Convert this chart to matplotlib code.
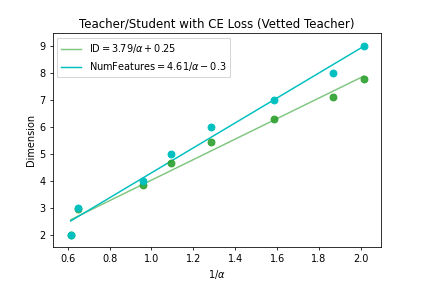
import matplotlib
matplotlib.use('Agg')
import matplotlib.pyplot as plt
import numpy as np

# 1/alpha values (x)
inv_alpha = np.array([0.614, 0.651, 0.961, 1.093, 1.285, 1.586, 1.868, 2.014])
# measured intrinsic dimension (green) and number of features (cyan)
id_vals = np.array([2.0, 2.96, 3.86, 4.67, 5.46, 6.30, 7.12, 7.77])
num_features = np.array([2, 3, 4, 5, 6, 7, 8, 9])

# fit coefficients as printed in the legend
id_slope, id_icpt = 3.79, 0.25
nf_slope, nf_icpt = 4.61, -0.3

fig = plt.figure(figsize=(6, 4.005), dpi=424 / 6)
ax = fig.add_subplot(111)
fig.subplots_adjust(left=0.124, right=0.899, bottom=0.128, top=0.882)

xs = np.array([inv_alpha.min(), inv_alpha.max()])
ax.plot(xs, id_slope * xs + id_icpt, color='#2ca02c', alpha=0.6,
        label=r'$\mathrm{ID} = 3.79/\alpha + 0.25$')
ax.scatter(inv_alpha, id_vals, color='#2ca02c', alpha=0.9, s=49, zorder=3)
ax.plot(xs, nf_slope * xs + nf_icpt, color='c',
        label=r'$\mathrm{NumFeatures} = 4.61/\alpha - 0.3$')
ax.scatter(inv_alpha, num_features, color='c', s=49, zorder=4)

ax.set_xlim(0.528, 2.097)
ax.set_ylim(1.58, 9.46)
ax.set_xlabel(r'$1/\alpha$')
ax.set_ylabel('Dimension')
ax.set_title('Teacher/Student with CE Loss (Vetted Teacher)')
ax.legend(loc='upper left', fancybox=False, edgecolor='#cccccc')

fig.savefig('out.png', dpi=424 / 6)
